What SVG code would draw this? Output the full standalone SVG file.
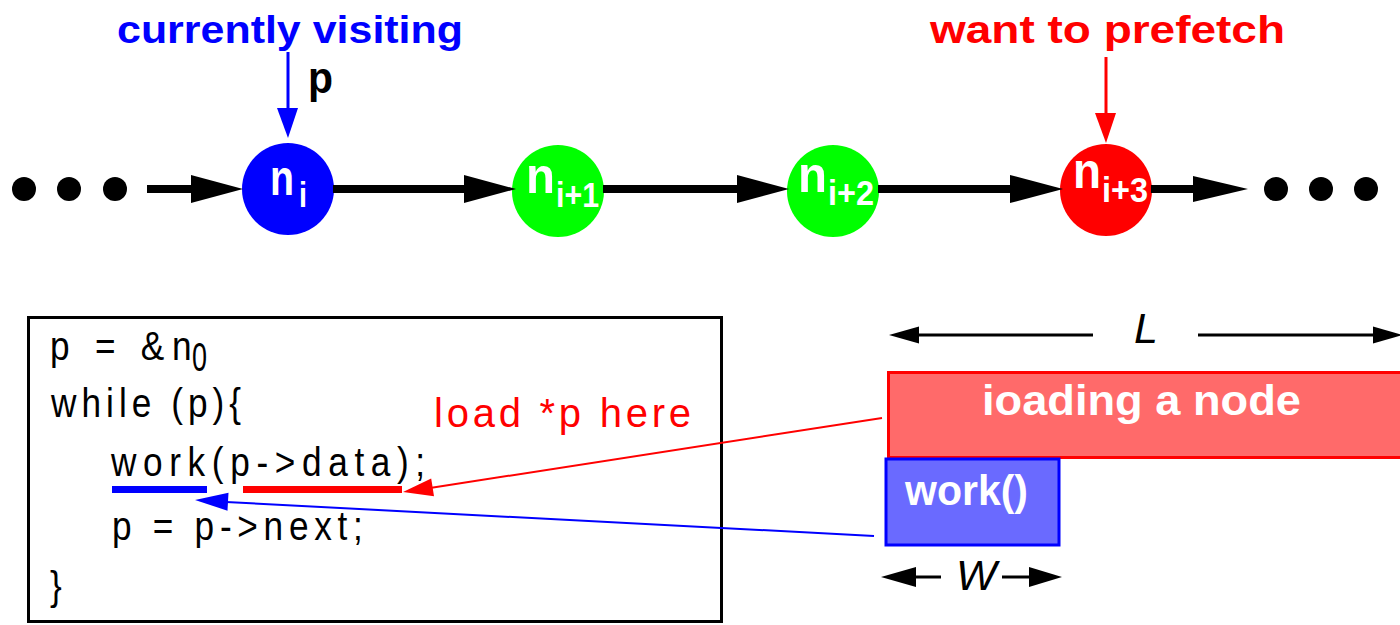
<svg xmlns="http://www.w3.org/2000/svg" width="1400" height="625" viewBox="0 0 1400 625">
  <defs>
    <style>
      .bold { font-family: "Liberation Sans", Arial, sans-serif; font-weight: bold; }
      .code { font-family: "Liberation Sans", Arial, sans-serif; font-size: 40px; fill: #000; }
      .ital { font-family: "Liberation Sans", Arial, sans-serif; font-style: italic; font-size: 43px; fill: #000; }
      .nlabel { font-family: "Liberation Sans", Arial, sans-serif; font-weight: bold; fill: #fff; }
      .chain { stroke: #000; stroke-width: 8; }
      .dim { stroke: #000; stroke-width: 3; }
      .head { fill: #000; }
      .dot { fill: #000; }
    </style>
  </defs>

  <!-- headings -->
  <text class="bold" x="117" y="43" font-size="39" fill="#0000ff" textLength="346" lengthAdjust="spacingAndGlyphs">currently visiting</text>
  <text class="bold" x="930" y="43" font-size="39" fill="#ff0000" textLength="355" lengthAdjust="spacingAndGlyphs">want to prefetch</text>
  <text class="bold" x="308" y="93" font-size="44" fill="#000" textLength="25" lengthAdjust="spacingAndGlyphs">p</text>

  <!-- ellipsis dots -->
  <g id="dots-left">
    <circle class="dot" cx="24" cy="189" r="12"/>
    <circle class="dot" cx="69" cy="189" r="12"/>
    <circle class="dot" cx="115" cy="189" r="12"/>
  </g>
  <g id="dots-right">
    <circle class="dot" cx="1276" cy="189" r="12"/>
    <circle class="dot" cx="1321" cy="189" r="12"/>
    <circle class="dot" cx="1366" cy="189" r="12"/>
  </g>

  <!-- list nodes -->
  <g id="node-ni">
    <circle cx="288" cy="189" r="46" fill="#0000ff"/>
    <text class="nlabel" x="270" y="195" font-size="50" textLength="24" lengthAdjust="spacingAndGlyphs">n</text>
    <text class="nlabel" x="299" y="207" font-size="35" textLength="8" lengthAdjust="spacingAndGlyphs">i</text>
  </g>
  <g id="node-ni1">
    <circle cx="558" cy="191" r="46" fill="#00ff00"/>
    <text class="nlabel" x="526" y="193" font-size="50" textLength="29" lengthAdjust="spacingAndGlyphs">n</text>
    <text class="nlabel" x="556" y="207" font-size="35" textLength="43" lengthAdjust="spacingAndGlyphs">i+1</text>
  </g>
  <g id="node-ni2">
    <circle cx="833" cy="191" r="46" fill="#00ff00"/>
    <text class="nlabel" x="798" y="192" font-size="50" textLength="29" lengthAdjust="spacingAndGlyphs">n</text>
    <text class="nlabel" x="828" y="205" font-size="35" textLength="46" lengthAdjust="spacingAndGlyphs">i+2</text>
  </g>
  <g id="node-ni3">
    <circle cx="1106" cy="190" r="46" fill="#ff0000"/>
    <text class="nlabel" x="1073" y="188" font-size="50" textLength="28" lengthAdjust="spacingAndGlyphs">n</text>
    <text class="nlabel" x="1102" y="202" font-size="35" textLength="46" lengthAdjust="spacingAndGlyphs">i+3</text>
  </g>

  <!-- code listing (slightly narrowed glyphs, loose tracking) -->
  <g id="code-box">
    <rect x="28.5" y="317.5" width="693" height="304" fill="#fff" stroke="#000" stroke-width="3"/>
    <text class="code" transform="translate(50,360) scale(0.88,1)" textLength="161" lengthAdjust="spacing">p = &amp;n</text>
    <text class="code" x="192" y="371" font-size="30" textLength="15" lengthAdjust="spacingAndGlyphs">0</text>
    <text class="code" transform="translate(51,417) scale(0.88,1)" textLength="216" lengthAdjust="spacing">while (p){</text>
    <text class="code" transform="translate(111,476) scale(0.88,1)" textLength="357" lengthAdjust="spacing">work(p-&gt;data);</text>
    <text class="code" transform="translate(112,540) scale(0.88,1)" textLength="285" lengthAdjust="spacing">p = p-&gt;next;</text>
    <text class="code" transform="translate(50,600) scale(0.88,1)">}</text>
    <rect x="112" y="486" width="95" height="7" fill="#0000ff"/>
    <rect x="243" y="486" width="159" height="7" fill="#ff0000"/>
  </g>
  <text id="load-label" font-family="Liberation Sans, Arial, sans-serif" x="434" y="427" font-size="40" fill="#ff0000" textLength="257" lengthAdjust="spacing">load *p here</text>

  <!-- timing bars -->
  <g id="bar-load">
    <rect x="888.5" y="372.5" width="530" height="85" fill="#ff6a6a" stroke="#ff0000" stroke-width="3"/>
    <text class="nlabel" x="982" y="415" font-size="42" textLength="319" lengthAdjust="spacingAndGlyphs">ioading a node</text>
  </g>
  <g id="bar-work">
    <rect x="886" y="459" width="173" height="86" fill="#6a6aff" stroke="#0000ff" stroke-width="3"/>
    <text class="nlabel" x="905" y="505" font-size="42" textLength="123" lengthAdjust="spacingAndGlyphs">work()</text>
  </g>

  <!-- dimension labels -->
  <text class="ital" x="1134" y="343">L</text>
  <text class="ital" x="956" y="590">W</text>

  <g id="connectors">
    <!-- pointer arrows -->
    <line x1="288" y1="52" x2="288" y2="110" stroke="#0000ff" stroke-width="3"/>
    <polygon points="277,108 298,108 288,138" fill="#0000ff"/>
    <line x1="1106" y1="57" x2="1106" y2="115" stroke="#ff0000" stroke-width="3"/>
    <polygon points="1095,113 1116,113 1106,143" fill="#ff0000"/>

    <!-- list links -->
    <line class="chain" x1="147" y1="189" x2="195" y2="189"/>
    <polygon class="head" points="191,175 243,189 191,203"/>
    <line class="chain" x1="333" y1="189" x2="468" y2="189"/>
    <polygon class="head" points="464,175 516,189 464,203"/>
    <line class="chain" x1="603" y1="189" x2="741" y2="189"/>
    <polygon class="head" points="737,175 789,189 737,203"/>
    <line class="chain" x1="878" y1="189" x2="1014" y2="189"/>
    <polygon class="head" points="1010,175 1063,189 1010,203"/>
    <line class="chain" x1="1151" y1="189" x2="1196" y2="189"/>
    <polygon class="head" points="1193,176 1248,189 1193,202"/>

    <!-- bars to code -->
    <line x1="882" y1="418" x2="430" y2="488" stroke="#ff0000" stroke-width="2"/>
    <polygon points="403,492 434,496.3 431.2,478.5" fill="#ff0000"/>
    <line x1="874" y1="536" x2="226" y2="502" stroke="#0000ff" stroke-width="2"/>
    <polygon points="195,500 227.5,510.7 228.5,492.7" fill="#0000ff"/>

    <!-- L dimension -->
    <line class="dim" x1="917" y1="335" x2="1093" y2="335"/>
    <polygon class="head" points="889,335 919,326.5 919,343.5"/>
    <line class="dim" x1="1198" y1="335" x2="1375" y2="335"/>
    <polygon class="head" points="1373,326.5 1403,335 1373,343.5"/>

    <!-- W dimension -->
    <line class="dim" x1="914" y1="577" x2="941" y2="577"/>
    <polygon class="head" points="881,577 916,567 916,587"/>
    <line class="dim" x1="1002" y1="577" x2="1031" y2="577"/>
    <polygon class="head" points="1029,567 1062,577 1029,587"/>
  </g>
</svg>
